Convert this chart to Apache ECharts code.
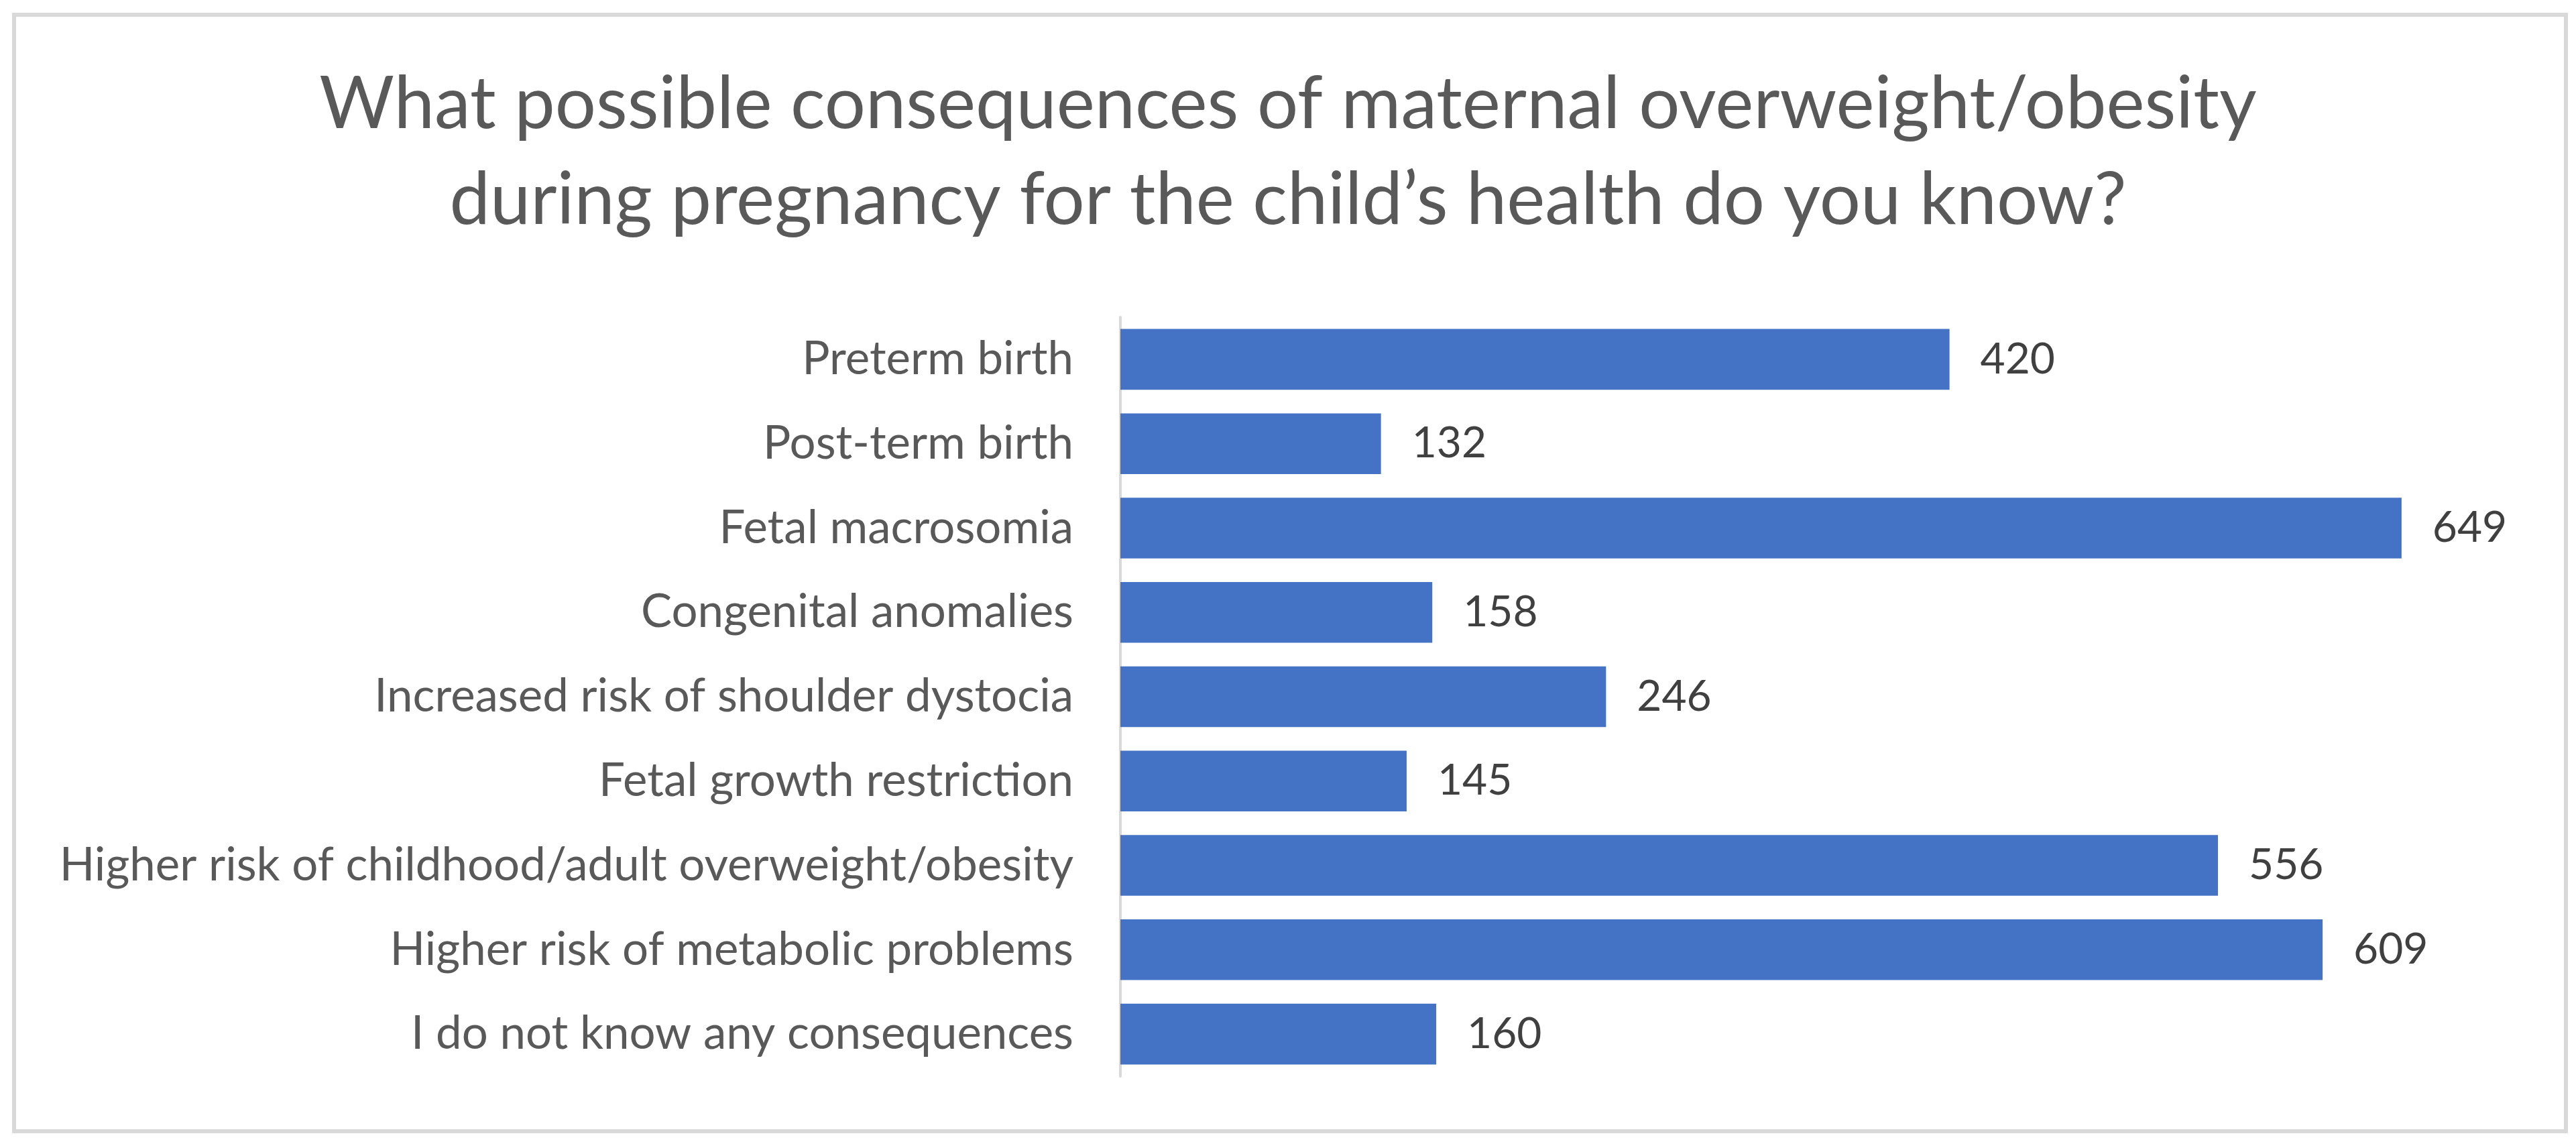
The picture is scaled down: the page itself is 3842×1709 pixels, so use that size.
<!DOCTYPE html>
<html>
<head>
<meta charset="utf-8">
<script src="https://cdn.jsdelivr.net/npm/echarts@6/dist/echarts.min.js"></script>
<style>
html,body{margin:0;padding:0;background:#fff;}
#chart{width:3842px;height:1709px;}
</style>
</head>
<body>
<div id="chart"></div>
<script>
var titleText = "What possible consequences of maternal overweight/obesity\nduring pregnancy for the child\u2019s health do you know?";
var categories = [
  "Preterm birth",
  "Post-term birth",
  "Fetal macrosomia",
  "Congenital anomalies",
  "Increased risk of shoulder dystocia",
  "Fetal growth restriction",
  "Higher risk of childhood/adult overweight/obesity",
  "Higher risk of metabolic problems",
  "I do not know any consequences"
];
var values = [420, 132, 649, 158, 246, 145, 556, 609, 160];

var chart = echarts.init(document.getElementById('chart'));
chart.setOption({
  backgroundColor: '#ffffff',
  animation: false,
  graphic: [{
    type: 'rect',
    shape: {x: 21, y: 22, width: 3806, height: 1665},
    style: {fill: 'none', stroke: '#d9d9d9', lineWidth: 6},
    z: -1
  }],
  title: {
    text: titleText,
    left: 'center',
    top: 80,
    textStyle: {
      fontFamily: 'Lato',
      fontSize: 108,
      fontWeight: 'normal',
      color: '#595959',
      lineHeight: 143
    }
  },
  grid: {left: 1671, right: 110, top: 473, bottom: 104, containLabel: false},
  xAxis: {
    type: 'value',
    min: 0,
    max: 700,
    show: false
  },
  yAxis: {
    type: 'category',
    data: categories,
    inverse: true,
    axisLine: {show: true, lineStyle: {color: '#d9d9d9', width: 4}},
    axisTick: {show: false},
    axisLabel: {
      margin: 70,
      fontFamily: 'Lato',
      fontSize: 69,
      color: '#595959'
    }
  },
  series: [{
    type: 'bar',
    data: values,
    barCategoryGap: '28%',
    itemStyle: {color: '#4472C4'},
    label: {
      show: true,
      position: 'right',
      distance: 46,
      fontFamily: 'Lato',
      fontSize: 64,
      color: '#404040'
    }
  }]
});
</script>
</body>
</html>
